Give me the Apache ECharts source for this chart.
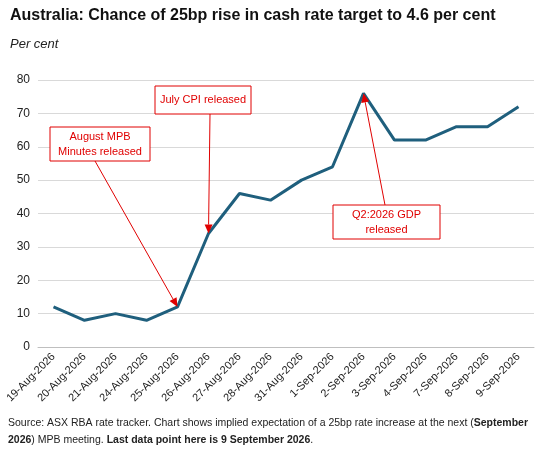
<!DOCTYPE html><html><head><meta charset="utf-8">
<script src="https://cdn.jsdelivr.net/npm/echarts@6/dist/echarts.min.js"></script>
<style>body{margin:0}#c{width:548px;height:454px}</style></head><body><div id="c"></div>
<script>
const categories=['19-Aug-2026','20-Aug-2026','21-Aug-2026','24-Aug-2026','25-Aug-2026','26-Aug-2026','27-Aug-2026','28-Aug-2026','31-Aug-2026','1-Sep-2026','2-Sep-2026','3-Sep-2026','4-Sep-2026','7-Sep-2026','8-Sep-2026','9-Sep-2026'];
const values=[12,8,10,8,12,34,46,44,50,54,76,62,62,66,66,72];
const yTicks=[0,10,20,30,40,50,60,70,80];
const notes=[
 {text:'August MPB\nMinutes released',box:[50,127,100,34],from:[95,161],cat:4},
 {text:'July CPI released',box:[155,86,96,28],from:[210,114],cat:5},
 {text:'Q2:2026 GDP\nreleased',box:[333,205,107,34],from:[385,205],cat:10}
];
const chart=echarts.init(document.getElementById('c'));
const F='Liberation Sans';
chart.setOption({
 animation:false,
 textStyle:{fontFamily:F},
 grid:{left:38,right:14,top:80,bottom:107},
 xAxis:{type:'category',data:categories,boundaryGap:true,
  axisLine:{lineStyle:{color:'#bfbfbf'}},axisTick:{show:false},
  axisLabel:{rotate:45,color:'#222',fontSize:11,fontFamily:F,interval:0}},
 yAxis:{type:'value',min:0,max:80,interval:10,
  axisLabel:{color:'#222',fontSize:12,fontFamily:F,formatter:v=>yTicks.includes(v)?v:''},
  splitLine:{lineStyle:{color:'#d9d9d9'}}},
 series:[{type:'line',data:values,symbol:'none',lineStyle:{color:'#1f5f7d',width:3}}],
 graphic:[
  {type:'text',left:10,top:8,style:{text:'Australia: Chance of 25bp rise in cash rate target to 4.6 per cent',font:'bold 16px '+F,fill:'#111'}},
  {type:'text',left:10,top:38,style:{text:'Per cent',font:'italic 13px '+F,fill:'#222'}},
  {type:'text',left:8,top:418,style:{rich:{a:{fontSize:10.5,fontFamily:F,fill:'#222',lineHeight:17},b:{fontSize:10.5,fontFamily:F,fontWeight:'bold',fill:'#222',lineHeight:17}},
   text:'{a|Source: ASX RBA rate tracker. Chart shows implied expectation of a 25bp rate increase at the next (}{b|September}\n{b|2026}{a|) MPB meeting. }{b|Last data point here is 9 September 2026}{a|.}'}}
 ]
});
const g=[];
notes.forEach(n=>{
 const p=chart.convertToPixel({seriesIndex:0},[n.cat,values[n.cat]]);
 const [x1,y1]=n.from, dx=p[0]-x1, dy=p[1]-y1, L=Math.hypot(dx,dy), ux=dx/L, uy=dy/L;
 const hx=p[0]-ux*9, hy=p[1]-uy*9;
 g.push({type:'line',z:10,shape:{x1,y1,x2:hx,y2:hy},style:{stroke:'#e00000',lineWidth:1}});
 g.push({type:'polygon',z:10,shape:{points:[[p[0],p[1]],[hx-uy*4,hy+ux*4],[hx+uy*4,hy-ux*4]]},style:{fill:'#e00000'}});
 g.push({type:'rect',z:11,shape:{x:n.box[0],y:n.box[1],width:n.box[2],height:n.box[3]},style:{fill:'#fff',stroke:'#e00000',lineWidth:1}});
 g.push({type:'text',z:12,x:n.box[0]+n.box[2]/2,y:n.box[1]+n.box[3]/2,style:{text:n.text,align:'center',verticalAlign:'middle',font:'11px '+F,fill:'#e00000',lineHeight:15}});
});
chart.setOption({graphic:chart.getOption().graphic[0].elements.concat(g)});
</script></body></html>
